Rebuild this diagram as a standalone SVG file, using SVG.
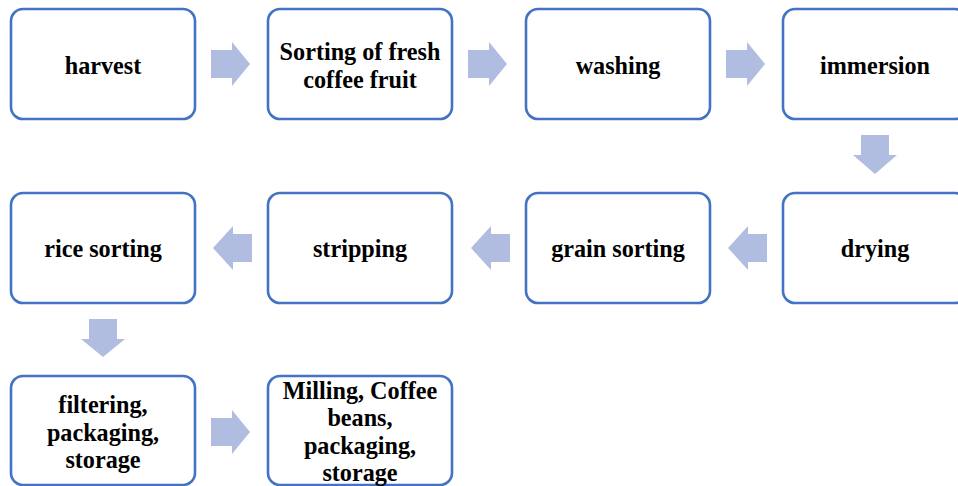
<svg xmlns="http://www.w3.org/2000/svg" width="958" height="486" viewBox="0 0 958 486">
<style>
.box{fill:#fff;stroke:#4472C4;stroke-width:2.6}
.t{font-family:"Liberation Serif","Times New Roman",serif;font-weight:bold;font-size:24.2px;fill:#000;text-anchor:middle}
.arr{fill:#B0BDE0}
</style>
<rect width="958" height="486" fill="#fff"/>
<g id="connectors">
<polygon class="arr" points="211,50 232,50 232,42 250,64 232,86 232,78 211,78"/>
<polygon class="arr" points="468,50 489,50 489,42 507,64 489,86 489,78 468,78"/>
<polygon class="arr" points="726,50 747,50 747,42 765,64 747,86 747,78 726,78"/>
<polygon class="arr" points="861,135 889,135 889,155 897,155 875,174 853,155 861,155"/>
<polygon class="arr" points="767,234 748,234 748,226 728,248 748,270 748,262 767,262"/>
<polygon class="arr" points="510,234 491,234 491,226 471,248 491,270 491,262 510,262"/>
<polygon class="arr" points="252,234 233,234 233,226 213,248 233,270 233,262 252,262"/>
<polygon class="arr" points="89,319 117,319 117,339 125,339 103,357 81,339 89,339"/>
<polygon class="arr" points="211,418 232,418 232,410 250,432 232,454 232,446 211,446"/>
</g>
<g id="n1"><rect class="box" x="11" y="9" width="184" height="110" rx="12"/><text class="t" x="103" y="74">harvest</text></g>
<g id="n2"><rect class="box" x="268" y="9" width="184" height="110" rx="12"/><text class="t" x="360" y="60">Sorting of fresh</text><text class="t" x="360" y="88">coffee fruit</text></g>
<g id="n3"><rect class="box" x="526" y="9" width="184" height="110" rx="12"/><text class="t" x="618" y="74">washing</text></g>
<g id="n4"><rect class="box" x="783" y="9" width="184" height="110" rx="12"/><text class="t" x="875" y="74">immersion</text></g>
<g id="n5"><rect class="box" x="783" y="193" width="184" height="110" rx="12"/><text class="t" x="875" y="257">drying</text></g>
<g id="n6"><rect class="box" x="526" y="193" width="184" height="110" rx="12"/><text class="t" x="618" y="257">grain sorting</text></g>
<g id="n7"><rect class="box" x="268" y="193" width="184" height="110" rx="12"/><text class="t" x="360" y="257">stripping</text></g>
<g id="n8"><rect class="box" x="11" y="193" width="184" height="110" rx="12"/><text class="t" x="103" y="257">rice sorting</text></g>
<g id="n9"><rect class="box" x="11" y="376" width="184" height="109" rx="12"/><text class="t" x="103" y="413">filtering,</text><text class="t" x="103" y="441">packaging,</text><text class="t" x="103" y="468">storage</text></g>
<g id="n10"><rect class="box" x="268" y="376" width="184" height="109" rx="12"/><text class="t" x="360" y="399">Milling, Coffee</text><text class="t" x="360" y="426">beans,</text><text class="t" x="360" y="454">packaging,</text><text class="t" x="360" y="481">storage</text></g>
</svg>
